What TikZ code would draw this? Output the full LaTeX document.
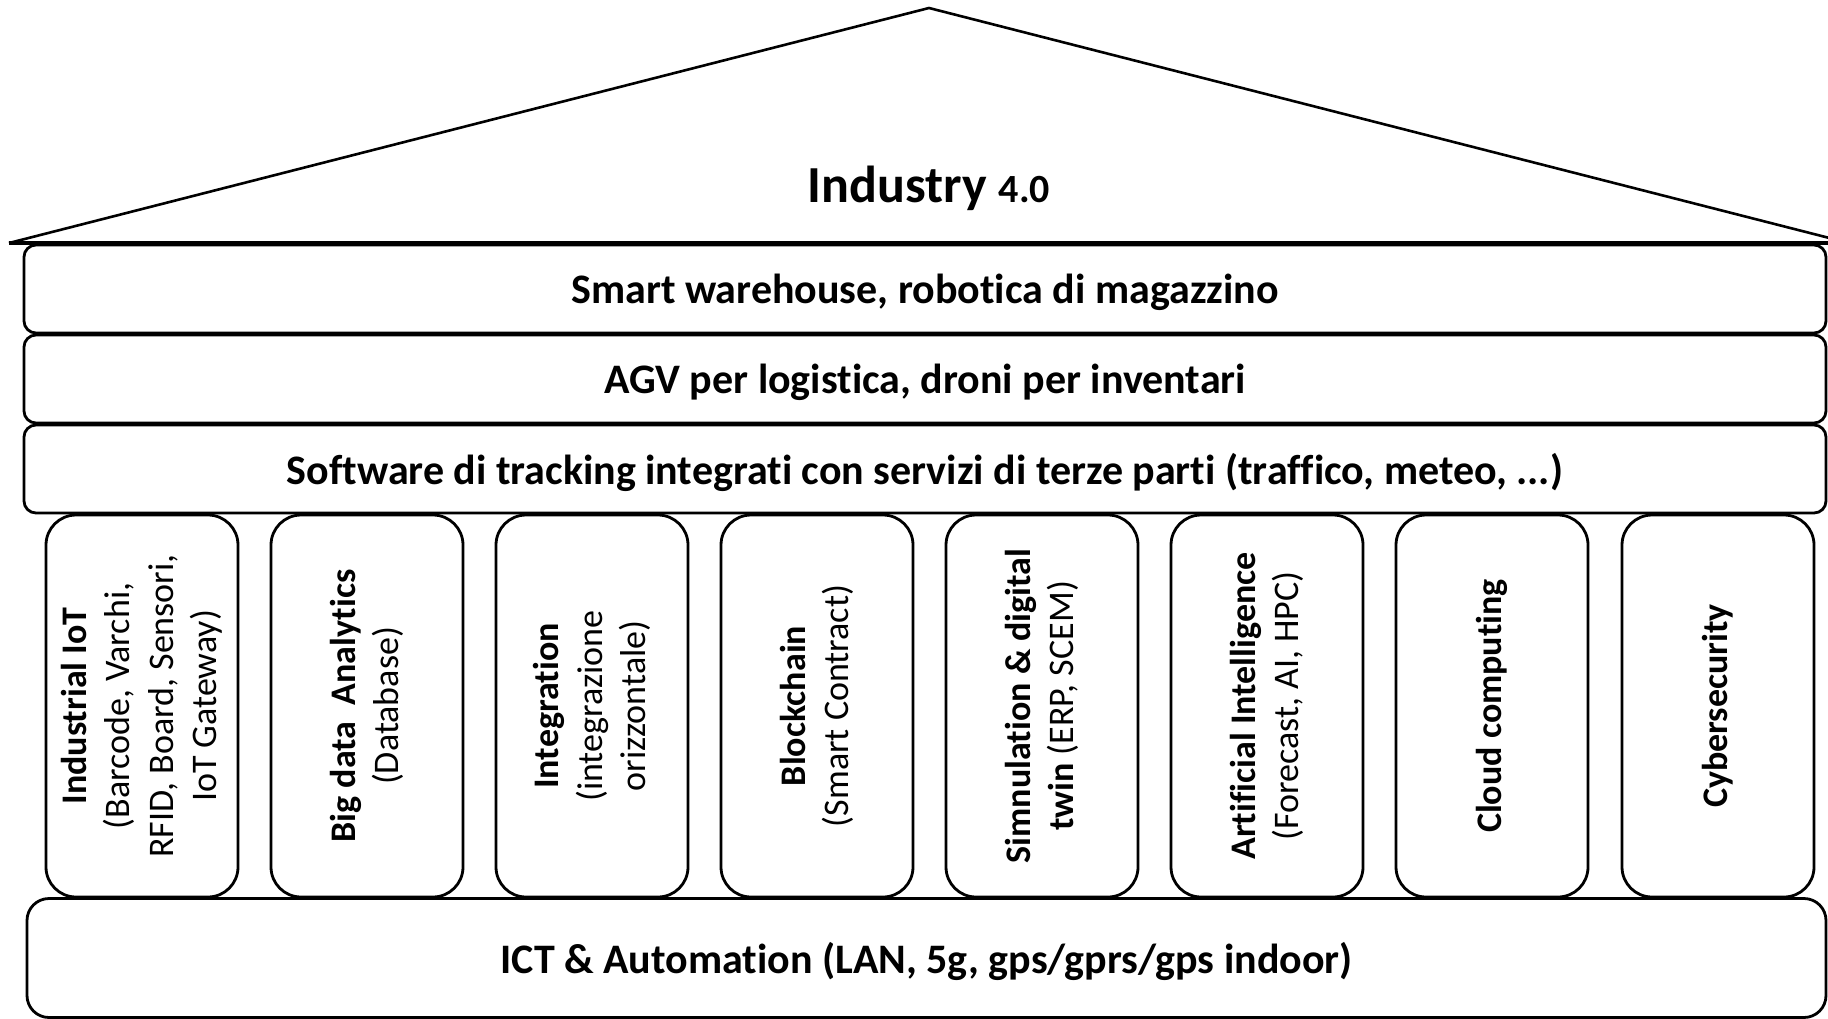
\documentclass[tikz,border=0pt]{standalone}
\usepackage{fontspec}
\setmainfont{Carlito}[Ligatures=NoCommon]
\begin{document}
\begin{tikzpicture}[x=1pt,y=-1pt,
  line width=2.8pt,
  band/.style={draw, rounded corners=12pt, inner sep=0pt, minimum width=1802pt, minimum height=88pt,
    text depth=0pt, font=\fontsize{42}{50}\selectfont\bfseries},
  pillar/.style={draw, rounded corners=30pt, inner sep=0pt, minimum width=192pt, minimum height=382pt},
  ptext/.style={rotate=90, align=center, font=\fontsize{36}{43.5}\selectfont, inner sep=0pt},
  base/.style={draw, rounded corners=22pt, inner sep=0pt, minimum width=1799pt, minimum height=119pt,
    text depth=0pt, font=\fontsize{42}{50}\selectfont\bfseries}]
\useasboundingbox (0,0) rectangle (1828,1018);
% roof
\coordinate (rl) at (9,243);
\coordinate (apex) at (929,8);
\coordinate (rr) at (1849,243);
\draw[line width=2.6pt] (rl) -- (apex) -- (rr);
\draw[line width=3.2pt] (rl) -- (rr);
\node[inner sep=0pt] (title) at (929,188) {\fontsize{52}{60}\selectfont\bfseries Industry \fontsize{40}{48}\selectfont 4.0};
% bands
\node[band] (b1) at (925,289) {Smart warehouse, robotica di magazzino};
\node[band] (b2) at (925,379) {AGV per logistica, droni per inventari};
\node[band] (b3) at (925,469) {Software di tracking integrati con servizi di terze parti (traffico, meteo, ...)};
% pillars
\node[pillar] (p1) at (142,706) {};
\node[pillar] (p2) at (367,706) {};
\node[pillar] (p3) at (592,706) {};
\node[pillar] (p4) at (817,706) {};
\node[pillar] (p5) at (1042,706) {};
\node[pillar] (p6) at (1267,706) {};
\node[pillar] (p7) at (1492,706) {};
\node[pillar] (p8) at (1718,706) {};
\node[ptext] (t1) at (p1) {\textbf{Industrial IoT}\\(Barcode, Varchi,\\RFID, Board, Sensori,\\IoT Gateway)};
\node[ptext] (t2) at (p2) {\textbf{Big data\ \ Analytics}\\(Database)};
\node[ptext] (t3) at (p3) {\textbf{Integration}\\(integrazione\\orizzontale)};
\node[ptext] (t4) at (p4) {\textbf{Blockchain}\\(Smart Contract)};
\node[ptext] (t5) at (p5) {\textbf{Simnulation \& digital}\\\textbf{twin} (ERP, SCEM)};
\node[ptext] (t6) at (p6) {\textbf{Artificial Intelligence}\\(Forecast, AI, HPC)};
\node[ptext] (t7) at (p7) {\textbf{Cloud computing}};
\node[ptext] (t8) at (p8) {\textbf{Cybersecurity}};
% base
\node[base] (ict) at (926.5,958) {ICT \& Automation (LAN, 5g, gps/gprs/gps indoor)};
\end{tikzpicture}
\end{document}
